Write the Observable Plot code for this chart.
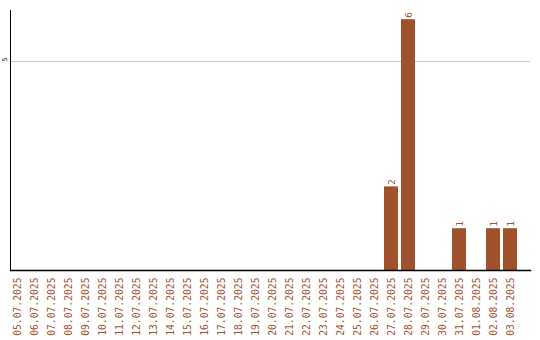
<!DOCTYPE html>
<html>
<head>
<meta charset="utf-8">
<script src="https://cdn.jsdelivr.net/npm/d3@7"></script>
<script src="https://cdn.jsdelivr.net/npm/@observablehq/plot@0.6"></script>
<style>
  html, body { margin: 0; padding: 0; background: #fff; }
</style>
</head>
<body>
<div id="chart"></div>
<script>
// Daily counts, 05.07.2025 – 03.08.2025
const dates = [
  "05.07.2025", "06.07.2025", "07.07.2025", "08.07.2025", "09.07.2025",
  "10.07.2025", "11.07.2025", "12.07.2025", "13.07.2025", "14.07.2025",
  "15.07.2025", "16.07.2025", "17.07.2025", "18.07.2025", "19.07.2025",
  "20.07.2025", "21.07.2025", "22.07.2025", "23.07.2025", "24.07.2025",
  "25.07.2025", "26.07.2025", "27.07.2025", "28.07.2025", "29.07.2025",
  "30.07.2025", "31.07.2025", "01.08.2025", "02.08.2025", "03.08.2025"
];
const counts = [
  0, 0, 0, 0, 0,
  0, 0, 0, 0, 0,
  0, 0, 0, 0, 0,
  0, 0, 0, 0, 0,
  0, 0, 2, 6, 0,
  0, 1, 0, 1, 1
];
const yTicks = [5];

const data = dates.map((date, i) => ({date, count: counts[i]}));
const barColor = "#a0522d";

const chart = Plot.plot({
  width: 540,
  height: 340,
  marginTop: 10,
  marginLeft: 10,
  marginRight: 10,
  marginBottom: 70,
  style: {background: "#fff", fontFamily: "'DejaVu Sans Mono', monospace"},
  x: {domain: dates, paddingInner: 0.18, paddingOuter: 0, insetRight: 13, label: null},
  y: {domain: [0, 6.22], axis: null},
  marks: [
    Plot.gridY(yTicks, {stroke: "#c8c8c8", strokeOpacity: 1}),
    Plot.barY(data, {x: "date", y: "count", fill: barColor}),
    Plot.text(data.filter(d => d.count > 0), {
      x: "date", y: "count", text: d => String(d.count),
      rotate: -90, textAnchor: "start", dy: -2,
      fill: barColor, fontSize: 9.5
    }),
    Plot.axisX({
      tickSize: 0, tickPadding: 7, tickRotate: -90,
      fontSize: 9.7, fill: barColor, label: null
    }),
    Plot.text(yTicks, {
      y: d => d, text: d => String(d), frameAnchor: "left",
      dx: -6, rotate: -90, fontSize: 6.5, fill: "#000"
    }),
    Plot.frame({anchor: "left", stroke: "#000", strokeOpacity: 1}),
    Plot.frame({anchor: "bottom", stroke: "#000", strokeOpacity: 1, strokeWidth: 1.3})
  ]
});

document.getElementById("chart").append(chart);
</script>
</body>
</html>
